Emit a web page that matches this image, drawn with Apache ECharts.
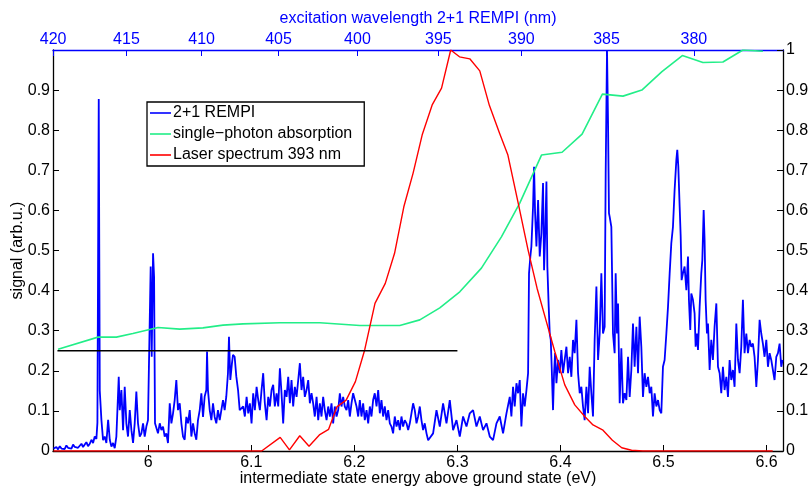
<!DOCTYPE html>
<html>
<head>
<meta charset="utf-8">
<script src="https://cdn.jsdelivr.net/npm/echarts@6/dist/echarts.min.js"></script>
<style>
 html, body { margin: 0; padding: 0; background: #fff; }
 #chart { width: 810px; height: 489px; }
</style>
</head>
<body>
<div id="chart"></div>
<script>
// x range in eV, 2-photon wavelength conversion constant (nm*eV)
const energyMin = 5.9075, energyMax = 6.616;
const twoPhotonK = 2481.2;
const energyTicks = [6, 6.1, 6.2, 6.3, 6.4, 6.5, 6.6];
const wavelengthTicks = [420, 415, 410, 405, 400, 395, 390, 385, 380];
const legendNames = ['2+1 REMPI', 'single\u2212photon absorption', 'Laser spectrum 393 nm'];

// 2+1 REMPI signal [eV, signal]
const rempiPoints = [
 [5.908,0.006],[5.9092,0.002],[5.9108,0.010],[5.9124,0.004],[5.9141,0.012],[5.9157,0.006],[5.9173,0.010],[5.9189,0.005],
 [5.9205,0.014],[5.9221,0.008],[5.9238,0.012],[5.9254,0.006],[5.927,0.016],[5.9286,0.010],[5.9302,0.014],[5.9318,0.008],
 [5.9335,0.012],[5.9351,0.018],[5.9367,0.010],[5.9383,0.016],[5.9399,0.022],[5.9415,0.012],[5.9432,0.018],[5.9448,0.028],
 [5.9464,0.020],[5.948,0.036],[5.9496,0.030],[5.9506,0.070],[5.9519,0.878],[5.9529,0.150],[5.9545,0.077],[5.9561,0.027],
 [5.9577,0.036],[5.9593,0.020],[5.961,0.078],[5.9626,0.028],[5.9642,0.011],[5.9658,0.020],[5.9674,0.007],[5.969,0.036],
 [5.9713,0.185],[5.9723,0.102],[5.9739,0.152],[5.9755,0.052],[5.9771,0.160],[5.9787,0.069],[5.9803,0.036],[5.982,0.102],
 [5.9836,0.052],[5.9852,0.020],[5.9868,0.069],[5.9884,0.148],[5.99,0.069],[5.9917,0.036],[5.9933,0.044],[5.9949,0.069],
 [5.9965,0.036],[5.9981,0.061],[5.9997,0.077],[6.0014,0.073],[6.0023,0.460],[6.0033,0.235],[6.0046,0.493],[6.0056,0.435],
 [6.0065,0.069],[6.0078,0.069],[6.0094,0.044],[6.0111,0.069],[6.0127,0.052],[6.0143,0.061],[6.0159,0.036],[6.0175,0.044],
 [6.0191,0.020],[6.0208,0.119],[6.0224,0.069],[6.024,0.094],[6.0256,0.127],[6.0272,0.177],[6.0288,0.102],[6.0305,0.119],
 [6.0321,0.069],[6.0337,0.036],[6.0353,0.028],[6.0369,0.085],[6.0385,0.069],[6.0402,0.102],[6.0418,0.036],[6.0434,0.069],
 [6.045,0.044],[6.0466,0.028],[6.0482,0.077],[6.0499,0.102],[6.0515,0.144],[6.0531,0.085],[6.0547,0.136],[6.0563,0.152],
 [6.057,0.248],[6.0579,0.152],[6.0596,0.102],[6.0612,0.077],[6.0628,0.119],[6.0644,0.085],[6.066,0.069],[6.0676,0.102],
 [6.0693,0.077],[6.0709,0.102],[6.0725,0.127],[6.0741,0.102],[6.0757,0.136],[6.0773,0.194],[6.0783,0.285],[6.0796,0.177],
 [6.0812,0.219],[6.0822,0.240],[6.0838,0.235],[6.0854,0.186],[6.0871,0.152],[6.0887,0.102],
 [6.0921,0.111],[6.0937,0.086],[6.0954,0.135],[6.097,0.094],[6.0986,0.119],[6.1002,0.069],[6.1018,0.144],[6.1034,0.102],
 [6.1051,0.160],[6.1067,0.127],[6.1083,0.102],[6.1099,0.152],[6.1115,0.194],[6.1131,0.119],[6.1148,0.077],[6.1164,0.135],
 [6.118,0.111],[6.1196,0.152],[6.1212,0.165],[6.1228,0.111],[6.1245,0.144],[6.1261,0.111],[6.1277,0.206],[6.1293,0.144],
 [6.1309,0.069],[6.1325,0.152],[6.1342,0.135],[6.1358,0.185],[6.1374,0.119],[6.139,0.177],[6.1406,0.111],[6.1422,0.160],
 [6.1439,0.135],[6.1455,0.177],[6.1471,0.219],[6.1487,0.152],[6.1503,0.185],[6.1519,0.135],[6.1536,0.152],[6.1552,0.177],
 [6.1568,0.119],[6.1584,0.144],[6.16,0.119],[6.1616,0.086],[6.1633,0.135],[6.1649,0.077],[6.1665,0.119],[6.1681,0.086],
 [6.1697,0.135],[6.1713,0.102],[6.173,0.077],[6.1746,0.111],[6.1762,0.086],[6.1778,0.119],[6.1794,0.069],[6.181,0.111],
 [6.1827,0.086],[6.1843,0.102],[6.1859,0.144],[6.1875,0.111],[6.1891,0.135],[6.1907,0.111],[6.1924,0.102],[6.194,0.127],
 [6.1956,0.086],[6.1972,0.119],[6.1988,0.144],[6.2004,0.144],[6.2021,0.111],[6.2037,0.086],[6.2053,0.127],[6.2069,0.086],
 [6.2085,0.119],[6.2101,0.077],[6.2118,0.102],[6.2134,0.069],[6.215,0.111],[6.2166,0.086],[6.2182,0.127],[6.2198,0.144],
 [6.2215,0.111],[6.2231,0.152],[6.2247,0.094],[6.2263,0.127],[6.2279,0.086],[6.2295,0.111],[6.2312,0.077],[6.2328,0.102],
 [6.2344,0.069],[6.236,0.061],[6.2376,0.044],[6.2392,0.086],[6.2409,0.061],[6.2425,0.077],[6.2441,0.052],[6.2457,0.086],
 [6.2473,0.061],[6.2489,0.077],[6.2506,0.069],[6.2522,0.052],[6.2538,0.069],[6.2554,0.094],[6.257,0.119],[6.2586,0.102],
 [6.2603,0.069],[6.2619,0.086],[6.2635,0.111],[6.2651,0.077],[6.2667,0.052],[6.2683,0.069],[6.27,0.044],[6.2716,0.027],
 [6.2764,0.044],[6.2797,0.102],[6.2829,0.061],[6.2861,0.119],[6.2894,0.069],[6.2926,0.127],[6.2958,0.052],[6.2991,0.077],
 [6.3023,0.036],[6.3055,0.086],[6.3088,0.061],[6.312,0.094],[6.3152,0.102],[6.3185,0.061],[6.3217,0.086],[6.3249,0.052],
 [6.3282,0.069],[6.3314,0.036],[6.3346,0.027],[6.3379,0.069],[6.3411,0.086],[6.3443,0.044],[6.3476,0.094],[6.3508,0.135],
 [6.3524,0.086],[6.354,0.160],[6.3556,0.111],[6.3573,0.169],[6.3589,0.144],[6.3605,0.177],[6.3621,0.061],[6.3637,0.144],
 [6.3653,0.111],[6.367,0.152],[6.3686,0.194],[6.3695,0.443],[6.3708,0.485],[6.3718,0.510],[6.3734,0.609],[6.3744,0.709],
 [6.3754,0.593],[6.3767,0.510],[6.3783,0.626],[6.3799,0.485],[6.3815,0.543],[6.3831,0.668],[6.3841,0.451],[6.3854,0.559],
 [6.3864,0.672],[6.3873,0.460],[6.3886,0.360],[6.3896,0.293],[6.3906,0.277],[6.3915,0.210],[6.3928,0.102],[6.3938,0.194],
 [6.3948,0.244],[6.3961,0.169],[6.3977,0.227],[6.3993,0.194],[6.4009,0.252],[6.4025,0.194],[6.4041,0.227],[6.4058,0.260],
 [6.4074,0.194],[6.409,0.235],[6.4106,0.185],[6.4122,0.277],[6.4138,0.244],[6.4155,0.327],[6.4171,0.194],[6.4187,0.144],
 [6.4203,0.160],[6.4219,0.111],[6.4235,0.077],[6.4252,0.160],[6.4268,0.094],[6.4284,0.210],[6.43,0.144],[6.4316,0.086],
 [6.4332,0.277],[6.4349,0.410],[6.4365,0.227],[6.4381,0.293],[6.4397,0.443],[6.4413,0.293],[6.4429,0.310],[6.4439,0.692],
 [6.4452,1.0],[6.4462,0.817],[6.4471,0.593],
 [6.4478,0.584],[6.4494,0.559],[6.451,0.293],[6.4526,0.244],[6.4536,0.443],[6.4549,0.293],[6.4559,0.368],[6.4575,0.119],
 [6.4591,0.256],[6.4607,0.119],[6.4623,0.144],[6.464,0.127],[6.4656,0.235],[6.4672,0.135],[6.4688,0.202],[6.4704,0.318],
 [6.472,0.210],[6.4737,0.310],[6.4753,0.194],[6.4769,0.335],[6.4785,0.260],[6.4801,0.135],[6.4817,0.194],[6.4834,0.160],
 [6.485,0.185],[6.4866,0.144],[6.4882,0.160],[6.4898,0.086],[6.4914,0.144],[6.4931,0.111],[6.4947,0.127],[6.4963,0.102],
 [6.4979,0.094],[6.4995,0.210],[6.5011,0.227],[6.5028,0.293],[6.5044,0.360],[6.506,0.443],[6.5076,0.518],[6.5092,0.559],
 [6.5108,0.651],[6.5125,0.726],[6.5134,0.751],[6.5144,0.709],[6.5157,0.609],[6.5167,0.535],[6.5176,0.426],[6.5189,0.443],
 [6.5205,0.460],[6.5222,0.401],[6.5238,0.485],[6.5247,0.377],[6.526,0.302],[6.527,0.393],[6.5286,0.377],[6.5302,0.343],
 [6.5312,0.260],[6.5325,0.293],[6.5335,0.252],[6.5351,0.360],[6.5367,0.443],[6.5377,0.476],[6.539,0.601],[6.5399,0.526],
 [6.5409,0.377],[6.5422,0.293],[6.5432,0.318],[6.5448,0.202],[6.5464,0.277],[6.548,0.227],[6.5496,0.310],[6.5513,0.368],
 [6.5529,0.210],[6.5545,0.194],[6.5561,0.144],[6.5577,0.210],[6.5593,0.152],[6.561,0.185],[6.5626,0.135],[6.5642,0.227],
 [6.5658,0.177],[6.5674,0.202],[6.569,0.160],[6.5707,0.318],[6.5723,0.227],[6.5739,0.194],[6.5755,0.260],[6.5771,0.377],
 [6.5787,0.244],[6.5804,0.293],[6.582,0.244],[6.5836,0.277],[6.5852,0.260],[6.5868,0.268],[6.5884,0.235],[6.5901,0.160],
 [6.5917,0.227],[6.5933,0.327],[6.5949,0.293],[6.5965,0.268],[6.5981,0.235],[6.5998,0.277],[6.6014,0.210],[6.603,0.244],
 [6.6046,0.227],[6.6062,0.202],[6.6078,0.177],[6.6095,0.235],[6.6111,0.244],[6.6127,0.268],[6.6143,0.210],[6.6156,0.227]
];

// single-photon absorption [eV, signal]
const absorptionPoints = [
 [5.9124,0.254],[5.9512,0.284],[5.969,0.284],[5.985,0.293],[6.0094,0.308],[6.0305,0.304],[6.053,0.307],[6.0725,0.314],
 [6.092,0.317],[6.1277,0.320],[6.1665,0.320],[6.2053,0.313],[6.2441,0.313],[6.2635,0.327],[6.2829,0.357],[6.3023,0.397],
 [6.3233,0.456],[6.3427,0.534],[6.3605,0.618],[6.3816,0.738],[6.4016,0.745],[6.421,0.790],[6.4407,0.890],[6.4607,0.885],
 [6.479,0.900],[6.4985,0.946],[6.5183,0.986],[6.5383,0.969],[6.5577,0.970],[6.5771,1.0],[6.5965,0.997]
];

// laser spectrum 393 nm [eV, signal]
const laserPoints = [
 [5.908,0],[6.110,0],[6.128,0.034],[6.137,0.003],[6.147,0.038],[6.156,0.012],[6.166,0.040],[6.175,0.054],
 [6.183,0.110],[6.192,0.127],[6.201,0.173],[6.210,0.252],[6.220,0.368],[6.230,0.418],[6.239,0.493],[6.248,0.609],
 [6.257,0.693],[6.266,0.790],[6.2755,0.863],[6.2846,0.905],[6.2935,1.0],[6.302,0.983],[6.312,0.978],[6.3217,0.948],
 [6.331,0.862],[6.341,0.792],[6.349,0.738],[6.359,0.618],[6.3686,0.501],[6.3773,0.406],[6.3864,0.322],[6.3945,0.248],
 [6.4042,0.165],[6.4139,0.115],[6.4236,0.086],[6.4316,0.065],[6.4413,0.052],[6.4504,0.027],[6.4595,0.008],[6.469,0.002],
 [6.48,0],[6.606,0]
];

// horizontal reference line
const refLine = [[5.9118,0.25],[6.3,0.25]];

const font = "'Liberation Sans', Arial, sans-serif";
const chart = echarts.init(document.getElementById('chart'));

function fmt(v) { return String(+v.toFixed(1)); }

chart.setOption({
  animation: false,
  backgroundColor: '#fff',
  textStyle: { fontFamily: font },
  grid: { left: 53, right: 27, top: 50, bottom: 38, outerBoundsMode: 'none', containLabel: false },
  legend: {
    data: legendNames,
    orient: 'vertical',
    left: 147, top: 102,
    icon: 'rect',
    itemWidth: 21, itemHeight: 1.6, itemGap: 5,
    padding: [3, 12, 3, 3],
    backgroundColor: '#fff',
    borderColor: '#000', borderWidth: 1.3,
    textStyle: { fontFamily: font, fontSize: 16, lineHeight: 16, color: '#000', padding: [0, 0, 0, -3] }
  },
  xAxis: [
    {
      type: 'value', min: energyMin, max: energyMax, position: 'bottom',
      name: 'intermediate state energy above ground state (eV)',
      nameLocation: 'middle', nameGap: 20, nameMoveOverlap: false,
      nameTextStyle: { fontSize: 16, color: '#000', fontFamily: font },
      axisLine: { show: true, onZero: false, lineStyle: { color: '#000', width: 1.3 } },
      axisTick: { inside: true, length: 6, customValues: energyTicks, lineStyle: { color: '#000' } },
      axisLabel: { customValues: energyTicks, fontSize: 16, color: '#000', margin: 4, formatter: fmt },
      splitLine: { show: false }
    },
    {
      type: 'value', min: energyMin, max: energyMax, position: 'top',
      name: 'excitation wavelength 2+1 REMPI (nm)',
      nameLocation: 'middle', nameGap: 23, nameMoveOverlap: false,
      nameTextStyle: { fontSize: 16, color: '#0000ff', fontFamily: font },
      axisLine: { show: true, onZero: false, lineStyle: { color: '#0000ff', width: 1.3 } },
      axisTick: { inside: true, length: 6, customValues: wavelengthTicks.map(l => twoPhotonK / l), lineStyle: { color: '#0000ff' } },
      axisLabel: { customValues: wavelengthTicks.map(l => twoPhotonK / l), fontSize: 16, color: '#0000ff', margin: 2,
        showMinLabel: true, formatter: v => String(Math.round(twoPhotonK / v)) },
      splitLine: { show: false }
    }
  ],
  yAxis: [
    {
      type: 'value', min: 0, max: 1, interval: 0.1, position: 'left',
      name: 'signal (arb.u.)', nameLocation: 'middle', nameGap: 27, nameMoveOverlap: false,
      nameTextStyle: { fontSize: 16, color: '#000', fontFamily: font },
      axisLine: { show: true, lineStyle: { color: '#000', width: 1.3 } },
      axisTick: { inside: true, length: 6, lineStyle: { color: '#000' } },
      axisLabel: { fontSize: 16, color: '#000', margin: 3, showMaxLabel: false, formatter: fmt },
      splitLine: { show: false }
    },
    {
      type: 'value', min: 0, max: 1, interval: 0.1, position: 'right',
      axisLine: { show: true, lineStyle: { color: '#000', width: 1.3 } },
      axisTick: { inside: true, length: 6, lineStyle: { color: '#000' } },
      axisLabel: { fontSize: 16, color: '#000', margin: 3, formatter: fmt },
      splitLine: { show: false }
    }
  ],
  series: [
    { name: legendNames[0], type: 'line', data: rempiPoints, showSymbol: false, symbol: 'none',
      color: '#0000ff', lineStyle: { color: '#0000ff', width: 1.8 }, z: 2 },
    { name: legendNames[1], type: 'line', data: absorptionPoints, showSymbol: false, symbol: 'none',
      color: '#22ee88', lineStyle: { color: '#22ee88', width: 1.6 }, z: 3 },
    { name: legendNames[2], type: 'line', data: laserPoints, showSymbol: false, symbol: 'none',
      color: '#ff0000', lineStyle: { color: '#ff0000', width: 1.4 }, z: 4 },
    { type: 'line', data: refLine, showSymbol: false, symbol: 'none',
      lineStyle: { color: '#000', width: 1.4 }, z: 5 }
  ]
});
</script>
</body>
</html>
